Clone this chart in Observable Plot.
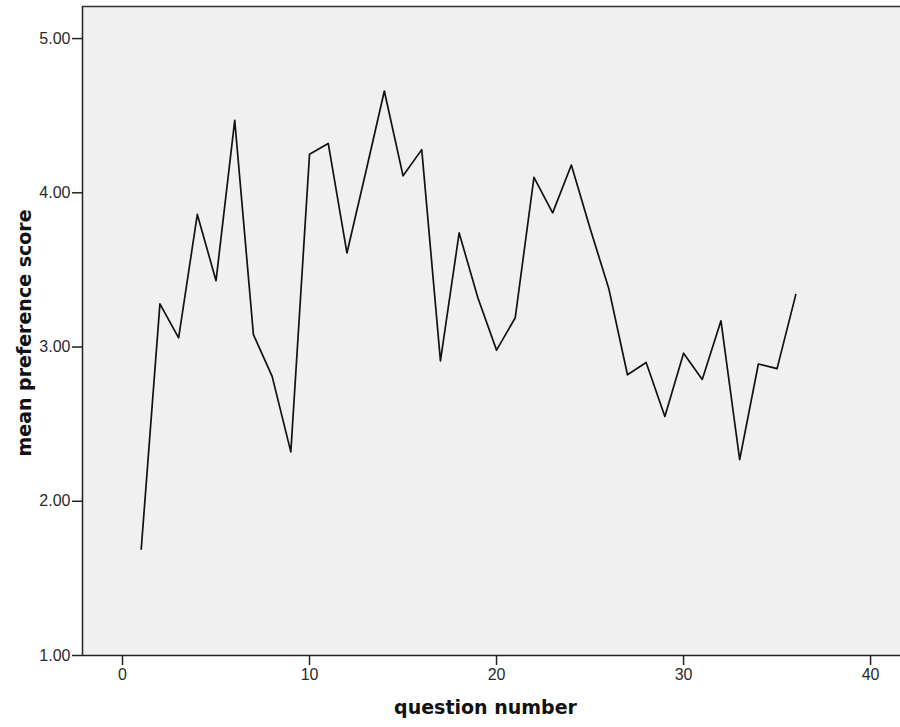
<!DOCTYPE html>
<html>
<head>
<meta charset="utf-8">
<script src="https://cdn.jsdelivr.net/npm/d3@7"></script>
<script src="https://cdn.jsdelivr.net/npm/@observablehq/plot@0.6"></script>
<style>
  html, body { margin: 0; padding: 0; background: #ffffff; }
  #chart svg { display: block; }
  #chart svg g[aria-label$="tick label"] { font-size: 16px !important; }
  #chart svg g[aria-label$="tick label"] text { font-size: 16px !important; }
</style>
</head>
<body>
<div id="chart"></div>
<script>
const questions = [1,2,3,4,5,6,7,8,9,10,11,12,13,14,15,16,17,18,19,20,21,22,23,24,25,26,27,28,29,30,31,32,33,34,35,36];
const scores = [1.69,3.28,3.06,3.86,3.43,4.47,3.08,2.81,2.32,4.25,4.32,3.61,4.13,4.66,4.11,4.28,2.91,3.74,3.32,2.98,3.19,4.10,3.87,4.18,3.77,3.38,2.82,2.90,2.55,2.96,2.79,3.17,2.27,2.89,2.86,3.34];
const xTicks = [0,10,20,30,40];
const yTicks = [1,2,3,4,5];
const xTitle = "question number";
const yTitle = "mean preference score";

const data = questions.map((q, i) => ({q, s: scores[i]}));
const xDomain = [-2.14, 41.6];
const yDomain = [1, 5.208];

const chart = Plot.plot({
  width: 900,
  height: 727,
  marginLeft: 82,
  marginRight: 0,
  marginTop: 6,
  marginBottom: 72,
  style: {fontFamily: "Liberation Sans, Arial, sans-serif", fontSize: "16px", color: "#2a2a2a", background: "#ffffff"},
  x: {domain: xDomain},
  y: {domain: yDomain},
  marks: [
    Plot.frame({fill: "#f0f0f0", stroke: null}),
    Plot.axisX({ticks: xTicks, tickSize: 10, tickPadding: 3, stroke: "#222", strokeWidth: 1.5, fontSize: 16, fill: "#2a2a2a", label: null}),
    Plot.axisY({ticks: yTicks, tickSize: 10, tickPadding: 2, tickFormat: d => d.toFixed(2), stroke: "#222", strokeWidth: 1.5, fontSize: 16, fill: "#2a2a2a", label: null}),
    Plot.ruleX([xDomain[0]], {stroke: "#222", strokeWidth: 1.5}),
    Plot.ruleY([yDomain[0]], {stroke: "#222", strokeWidth: 1.5}),
    Plot.ruleY([yDomain[1]], {stroke: "#333", strokeWidth: 1.5}),
    Plot.line(data, {x: "q", y: "s", stroke: "#111", strokeWidth: 1.7}),
    Plot.text([xTitle], {frameAnchor: "bottom", textAnchor: "middle", dy: 58, dx: -6, fontFamily: "DejaVu Sans", fontWeight: "bold", fontSize: 19, fill: "#111"}),
    Plot.text([yTitle], {frameAnchor: "left", textAnchor: "middle", dx: -58, dy: 2, rotate: -90, fontFamily: "DejaVu Sans", fontWeight: "bold", fontSize: 19, fill: "#111"})
  ]
});
document.getElementById("chart").appendChild(chart);
</script>
</body>
</html>
